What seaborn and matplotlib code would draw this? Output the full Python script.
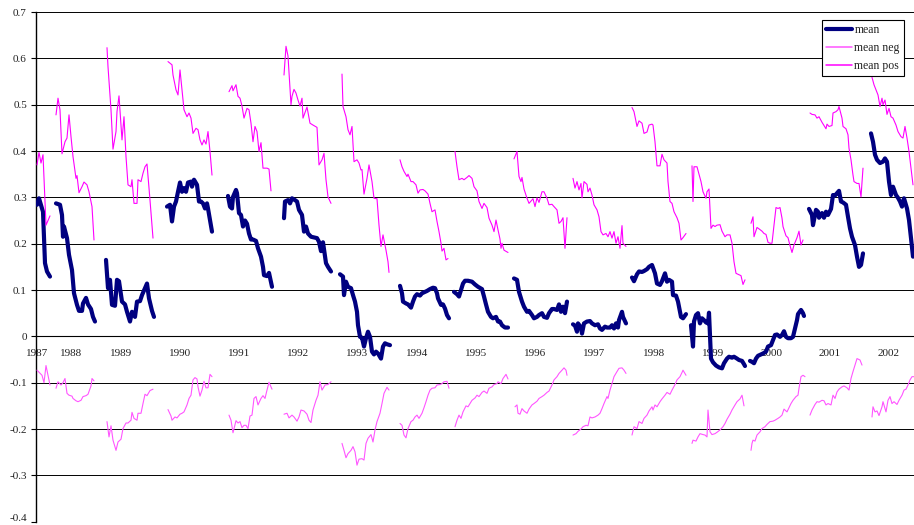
import numpy as np
import pandas as pd
import matplotlib
matplotlib.use("Agg")
import matplotlib.pyplot as plt
import matplotlib.transforms as mtransforms
import seaborn as sns
from matplotlib.lines import Line2D

# ---------------- data ----------------
year_labels = [str(y) for y in range(1987, 2003)]
year_tick_pos = [1, 35, 85, 144, 203, 262, 321, 381, 440, 499, 558, 618, 677, 736, 794, 853]
y_ticks = [0.7, 0.6, 0.5, 0.4, 0.3, 0.2, 0.1, 0.0, -0.1, -0.2, -0.3, -0.4]
y_tick_labels = ["0.7", "0.6", "0.5", "0.4", "0.3", "0.2", "0.1", "0", "-0.1", "-0.2", "-0.3", "-0.4"]

# mean (one sub-list per yearly segment; x = observation period index)
mean_x = [
    [1, 3, 6, 7, 9, 11, 14],
    [20, 24, 26, 27, 28, 31, 33, 36, 38, 41, 43, 46, 47, 50, 52, 55, 57, 59],
    [70, 72, 74, 76, 79, 81, 83, 86, 89, 91, 94, 96, 99, 101, 104, 106, 109, 111, 113, 116, 118],
    [131, 134, 136, 138, 140, 142, 144, 146, 148, 150, 152, 155, 156, 158, 161, 163, 165, 167, 169, 171, 172, 174, 176],
    [192, 194, 196, 197, 200, 201, 203, 205, 207, 209, 211, 213, 215, 217, 220, 222, 225, 227, 228, 231, 233, 236],
    [248, 249, 252, 254, 256, 259, 261, 263, 266, 268, 270, 272, 275, 277, 281, 283, 285, 287, 290, 292, 295],
    [304, 307, 308, 310, 312, 315, 317, 319, 321, 322, 324, 326, 328, 330, 332, 334, 336, 338, 340, 342, 345, 347, 349, 351, 354],
    [364, 366, 367, 370, 372, 375, 377, 379, 381, 384, 386, 389, 391, 394, 397, 399, 401, 402, 405, 407, 409, 411, 413],
    [418, 421, 423, 425, 427, 429, 432, 436, 439, 442, 446, 448, 450, 452, 455, 457, 460, 462, 464, 466, 469, 472],
    [478, 481, 483, 486, 488, 491, 493, 496, 498, 501, 503, 506, 508, 511, 513, 516, 518, 521, 523, 525, 527, 529, 531],
    [537, 539, 541, 542, 545, 546, 548, 551, 554, 556, 559, 562, 564, 566, 569, 571, 574, 576, 578, 580, 582, 583, 586, 587, 590],
    [596, 598, 601, 603, 606, 608, 611, 613, 616, 619, 621, 624, 626, 629, 631, 633, 636, 637, 640, 642, 645, 647, 650],
    [655, 657, 658, 660, 662, 664, 666, 668, 670, 672, 673, 675, 677, 680, 683, 686, 688, 691, 693, 696, 698, 701, 703, 706, 708, 709],
    [714, 716, 718, 720, 722, 725, 727, 730, 732, 735, 737, 739, 741, 744, 746, 748, 750, 752, 755, 757, 759, 761, 762, 765, 767, 768],
    [773, 776, 777, 780, 782, 783, 786, 788, 790, 792, 795, 797, 799, 801, 803, 805, 807, 810, 812, 814, 816, 819, 821, 823, 825, 827],
    [835, 837, 839, 841, 844, 847, 849, 851, 853, 855, 857, 860, 862, 864, 866, 868, 871, 873, 875, 877],
]
mean_y = [
    [0.284, 0.298, 0.276, 0.269, 0.158, 0.140, 0.129],
    [0.287, 0.284, 0.262, 0.215, 0.237, 0.212, 0.176, 0.143, 0.093, 0.068, 0.055, 0.055, 0.071, 0.083, 0.069, 0.059, 0.042, 0.032],
    [0.165, 0.104, 0.122, 0.068, 0.066, 0.122, 0.119, 0.075, 0.069, 0.053, 0.032, 0.053, 0.042, 0.075, 0.076, 0.089, 0.104, 0.114, 0.082, 0.055, 0.042],
    [0.280, 0.284, 0.248, 0.280, 0.291, 0.312, 0.332, 0.312, 0.320, 0.312, 0.332, 0.334, 0.323, 0.338, 0.327, 0.291, 0.291, 0.287, 0.276, 0.287, 0.276, 0.251, 0.226],
    [0.303, 0.280, 0.276, 0.301, 0.316, 0.309, 0.266, 0.262, 0.237, 0.250, 0.243, 0.222, 0.209, 0.209, 0.206, 0.190, 0.172, 0.150, 0.132, 0.130, 0.137, 0.107],
    [0.255, 0.291, 0.294, 0.287, 0.298, 0.294, 0.291, 0.273, 0.262, 0.226, 0.237, 0.222, 0.215, 0.214, 0.212, 0.204, 0.184, 0.203, 0.158, 0.150, 0.140],
    [0.134, 0.129, 0.089, 0.118, 0.107, 0.104, 0.089, 0.075, 0.053, 0.024, -0.001, -0.003, -0.022, -0.004, 0.010, -0.001, -0.033, -0.039, -0.033, -0.037, -0.048, -0.022, -0.015, -0.017, -0.019],
    [0.109, 0.093, 0.075, 0.071, 0.069, 0.062, 0.075, 0.086, 0.091, 0.088, 0.093, 0.096, 0.098, 0.102, 0.105, 0.104, 0.093, 0.082, 0.068, 0.069, 0.060, 0.046, 0.039],
    [0.096, 0.091, 0.086, 0.100, 0.114, 0.120, 0.120, 0.118, 0.112, 0.107, 0.102, 0.086, 0.069, 0.053, 0.042, 0.039, 0.042, 0.032, 0.032, 0.024, 0.019, 0.019],
    [0.125, 0.122, 0.096, 0.075, 0.064, 0.053, 0.055, 0.046, 0.039, 0.042, 0.046, 0.050, 0.042, 0.040, 0.050, 0.059, 0.059, 0.057, 0.069, 0.053, 0.064, 0.050, 0.075],
    [0.026, 0.023, 0.010, 0.028, 0.019, 0.006, 0.028, 0.032, 0.033, 0.028, 0.024, 0.026, 0.017, 0.014, 0.021, 0.019, 0.019, 0.024, 0.017, 0.028, 0.019, 0.035, 0.053, 0.042, 0.028],
    [0.127, 0.119, 0.134, 0.140, 0.139, 0.141, 0.145, 0.150, 0.154, 0.136, 0.114, 0.111, 0.119, 0.136, 0.118, 0.122, 0.118, 0.089, 0.088, 0.075, 0.042, 0.039, 0.048],
    [0.024, -0.022, 0.032, 0.046, 0.050, 0.028, 0.039, 0.035, 0.030, 0.028, 0.051, -0.048, -0.056, -0.063, -0.067, -0.069, -0.058, -0.048, -0.044, -0.046, -0.044, -0.048, -0.051, -0.053, -0.060, -0.064],
    [-0.053, -0.055, -0.058, -0.048, -0.042, -0.039, -0.037, -0.033, -0.022, -0.019, -0.008, 0.003, 0.004, -0.001, 0.003, 0.011, -0.001, -0.004, -0.004, -0.001, 0.017, 0.035, 0.048, 0.057, 0.050, 0.044],
    [0.275, 0.262, 0.240, 0.273, 0.269, 0.256, 0.266, 0.256, 0.269, 0.262, 0.275, 0.305, 0.304, 0.309, 0.314, 0.291, 0.289, 0.284, 0.258, 0.233, 0.215, 0.197, 0.172, 0.150, 0.154, 0.179],
    [0.438, 0.420, 0.392, 0.381, 0.374, 0.377, 0.384, 0.377, 0.334, 0.305, 0.323, 0.305, 0.299, 0.291, 0.280, 0.298, 0.276, 0.251, 0.212, 0.172],
]

# mean pos (upper magenta series)
pos_x = [
    [1, 3, 5, 7, 10, 14],
    [20, 22, 24, 26, 29, 31, 33, 35, 37, 40, 41, 43, 46, 48, 51, 53, 56, 58],
    [71, 72, 75, 77, 80, 81, 83, 86, 88, 90, 92, 95, 96, 98, 101, 102, 105, 107, 109, 111, 114, 117],
    [132, 136, 137, 140, 142, 144, 146, 148, 151, 153, 155, 157, 160, 162, 164, 166, 168, 170, 172, 174, 176],
    [193, 196, 197, 200, 202, 204, 206, 208, 211, 213, 215, 217, 219, 221, 223, 225, 227, 229, 231, 233, 235],
    [248, 250, 252, 255, 256, 258, 260, 262, 264, 266, 267, 271, 274, 277, 281, 283, 286, 288, 290, 292, 295],
    [306, 307, 310, 312, 314, 316, 318, 321, 323, 325, 326, 328, 331, 333, 336, 338, 341, 343, 345, 347, 350, 352, 353],
    [364, 366, 368, 371, 372, 375, 377, 380, 382, 384, 387, 389, 392, 394, 396, 399, 401, 403, 405, 406, 408, 410, 412],
    [419, 421, 423, 426, 428, 431, 433, 436, 438, 441, 443, 446, 448, 451, 453, 456, 458, 460, 462, 464, 465, 466, 468, 472],
    [478, 481, 483, 485, 486, 488, 491, 493, 495, 497, 499, 501, 503, 506, 508, 511, 513, 516, 518, 521, 523, 525, 527, 529, 531],
    [537, 539, 541, 543, 545, 546, 548, 551, 552, 554, 556, 558, 561, 563, 565, 567, 570, 572, 574, 576, 578, 580, 582, 584, 586, 587, 590],
    [596, 598, 601, 603, 606, 608, 611, 613, 616, 617, 619, 621, 624, 626, 628, 631, 632, 634, 636, 638, 641, 643, 645, 647, 650],
    [656, 657, 658, 661, 663, 665, 667, 670, 671, 673, 675, 677, 679, 681, 684, 686, 689, 691, 694, 696, 698, 700, 702, 705, 707, 709],
    [715, 717, 718, 721, 723, 726, 728, 730, 732, 734, 736, 738, 740, 742, 744, 746, 747, 750, 752, 754, 756, 758, 761, 763, 765, 767],
    [774, 776, 779, 781, 783, 786, 788, 790, 791, 793, 796, 797, 800, 802, 803, 806, 807, 810, 812, 813, 815, 817, 818, 821, 823, 825, 827],
    [836, 838, 840, 842, 844, 846, 847, 849, 851, 853, 855, 857, 860, 862, 865, 867, 869, 871, 873, 875, 877],
]
pos_y = [
    [0.370, 0.397, 0.374, 0.392, 0.240, 0.260],
    [0.478, 0.514, 0.489, 0.394, 0.420, 0.428, 0.478, 0.431, 0.388, 0.341, 0.347, 0.310, 0.323, 0.333, 0.327, 0.312, 0.280, 0.208],
    [0.623, 0.582, 0.489, 0.404, 0.442, 0.485, 0.519, 0.424, 0.474, 0.388, 0.327, 0.323, 0.338, 0.287, 0.287, 0.338, 0.334, 0.352, 0.366, 0.372, 0.294, 0.212],
    [0.593, 0.586, 0.564, 0.532, 0.521, 0.575, 0.532, 0.489, 0.474, 0.482, 0.471, 0.438, 0.449, 0.446, 0.424, 0.413, 0.424, 0.415, 0.442, 0.399, 0.348],
    [0.528, 0.541, 0.530, 0.543, 0.518, 0.514, 0.497, 0.471, 0.492, 0.489, 0.460, 0.420, 0.453, 0.442, 0.399, 0.418, 0.363, 0.363, 0.363, 0.361, 0.314],
    [0.564, 0.626, 0.605, 0.500, 0.518, 0.533, 0.525, 0.510, 0.497, 0.514, 0.471, 0.495, 0.460, 0.456, 0.451, 0.370, 0.381, 0.395, 0.338, 0.301, 0.287],
    [0.566, 0.496, 0.474, 0.446, 0.435, 0.453, 0.377, 0.381, 0.374, 0.359, 0.360, 0.307, 0.341, 0.370, 0.334, 0.298, 0.297, 0.240, 0.194, 0.219, 0.186, 0.161, 0.138],
    [0.381, 0.366, 0.356, 0.345, 0.350, 0.334, 0.334, 0.327, 0.309, 0.316, 0.317, 0.314, 0.307, 0.287, 0.269, 0.273, 0.248, 0.226, 0.201, 0.184, 0.190, 0.165, 0.168],
    [0.399, 0.366, 0.338, 0.341, 0.338, 0.343, 0.347, 0.341, 0.323, 0.314, 0.291, 0.276, 0.287, 0.278, 0.255, 0.240, 0.226, 0.251, 0.230, 0.210, 0.190, 0.201, 0.186, 0.181],
    [0.383, 0.399, 0.345, 0.334, 0.343, 0.318, 0.298, 0.287, 0.292, 0.297, 0.280, 0.299, 0.289, 0.312, 0.312, 0.298, 0.284, 0.285, 0.280, 0.273, 0.244, 0.248, 0.256, 0.190, 0.256],
    [0.341, 0.320, 0.334, 0.316, 0.330, 0.299, 0.334, 0.328, 0.312, 0.320, 0.305, 0.284, 0.273, 0.258, 0.226, 0.219, 0.222, 0.215, 0.226, 0.212, 0.226, 0.201, 0.215, 0.190, 0.239, 0.201, 0.194],
    [0.494, 0.485, 0.453, 0.465, 0.460, 0.438, 0.441, 0.456, 0.458, 0.456, 0.420, 0.368, 0.368, 0.393, 0.381, 0.374, 0.334, 0.291, 0.287, 0.269, 0.256, 0.244, 0.208, 0.213, 0.222],
    [0.368, 0.291, 0.366, 0.366, 0.350, 0.334, 0.312, 0.298, 0.312, 0.318, 0.233, 0.240, 0.237, 0.240, 0.241, 0.227, 0.215, 0.219, 0.219, 0.201, 0.161, 0.136, 0.134, 0.131, 0.112, 0.122],
    [0.244, 0.258, 0.215, 0.235, 0.232, 0.227, 0.222, 0.220, 0.203, 0.201, 0.201, 0.240, 0.278, 0.276, 0.278, 0.255, 0.237, 0.217, 0.213, 0.196, 0.181, 0.197, 0.213, 0.227, 0.197, 0.208],
    [0.482, 0.479, 0.478, 0.471, 0.474, 0.462, 0.455, 0.448, 0.458, 0.453, 0.455, 0.482, 0.485, 0.489, 0.496, 0.471, 0.453, 0.448, 0.435, 0.406, 0.381, 0.348, 0.334, 0.330, 0.330, 0.301, 0.363],
    [0.559, 0.543, 0.532, 0.521, 0.496, 0.514, 0.500, 0.510, 0.479, 0.492, 0.474, 0.471, 0.456, 0.442, 0.431, 0.428, 0.453, 0.428, 0.399, 0.363, 0.327],
]

# mean neg (lower magenta series)
neg_x = [
    [1, 6, 8, 10, 12, 14],
    [20, 22, 25, 27, 29, 31, 33, 36, 37, 40, 42, 45, 47, 50, 52, 55, 56, 58],
    [71, 73, 75, 77, 80, 82, 85, 87, 90, 92, 95, 96, 98, 101, 102, 105, 107, 109, 111, 114, 117],
    [132, 135, 136, 139, 141, 144, 146, 148, 151, 153, 155, 157, 159, 161, 162, 164, 166, 168, 170, 172, 174, 176],
    [193, 195, 197, 200, 202, 204, 206, 208, 210, 212, 214, 216, 218, 220, 222, 225, 227, 229, 231, 233, 236],
    [248, 251, 253, 256, 258, 261, 263, 265, 268, 271, 273, 275, 277, 280, 282, 284, 286, 289, 292, 295],
    [306, 308, 310, 312, 315, 317, 319, 321, 323, 326, 328, 330, 332, 335, 337, 339, 341, 344, 346, 348, 351, 353],
    [364, 366, 368, 370, 372, 375, 377, 379, 381, 383, 386, 388, 390, 392, 394, 396, 399, 401, 404, 406, 408, 411, 413],
    [419, 421, 423, 425, 427, 430, 432, 434, 436, 439, 441, 443, 446, 448, 451, 453, 456, 458, 461, 462, 465, 467, 470, 472],
    [479, 481, 482, 484, 486, 488, 491, 493, 496, 498, 501, 503, 506, 508, 511, 513, 516, 518, 521, 523, 526, 528, 530, 531],
    [537, 540, 542, 545, 547, 550, 552, 554, 556, 559, 562, 564, 566, 568, 571, 572, 574, 576, 578, 581, 583, 586, 588, 590],
    [596, 598, 601, 603, 606, 608, 611, 613, 616, 617, 619, 621, 624, 626, 629, 631, 634, 636, 639, 641, 644, 646, 647, 650],
    [656, 657, 660, 662, 664, 667, 669, 671, 672, 674, 676, 679, 681, 684, 687, 689, 691, 694, 696, 699, 701, 704, 706, 708],
    [715, 716, 717, 719, 721, 724, 726, 729, 731, 734, 737, 739, 742, 744, 746, 748, 751, 753, 755, 757, 760, 762, 763, 765, 767, 769],
    [774, 776, 779, 781, 783, 786, 788, 790, 792, 795, 797, 799, 801, 803, 806, 808, 811, 813, 815, 817, 819, 821, 824, 826],
    [836, 837, 839, 841, 843, 846, 847, 850, 852, 854, 856, 858, 861, 863, 866, 868, 870, 872, 874, 876, 878],
]
neg_y = [
    [-0.073, -0.084, -0.100, -0.063, -0.084, -0.105],
    [-0.112, -0.098, -0.105, -0.100, -0.091, -0.123, -0.127, -0.129, -0.134, -0.139, -0.141, -0.138, -0.130, -0.128, -0.125, -0.107, -0.091, -0.096],
    [-0.184, -0.217, -0.193, -0.224, -0.246, -0.228, -0.222, -0.199, -0.187, -0.187, -0.181, -0.164, -0.177, -0.181, -0.166, -0.166, -0.145, -0.125, -0.128, -0.117, -0.114],
    [-0.158, -0.172, -0.181, -0.174, -0.176, -0.168, -0.166, -0.163, -0.148, -0.134, -0.127, -0.094, -0.089, -0.092, -0.109, -0.129, -0.116, -0.097, -0.111, -0.111, -0.082, -0.087],
    [-0.170, -0.181, -0.208, -0.182, -0.187, -0.184, -0.197, -0.192, -0.192, -0.199, -0.172, -0.170, -0.134, -0.130, -0.148, -0.134, -0.128, -0.134, -0.116, -0.099, -0.114],
    [-0.168, -0.166, -0.176, -0.170, -0.174, -0.183, -0.174, -0.159, -0.161, -0.168, -0.181, -0.186, -0.159, -0.138, -0.127, -0.098, -0.116, -0.105, -0.104, -0.098],
    [-0.231, -0.246, -0.262, -0.253, -0.246, -0.238, -0.249, -0.278, -0.265, -0.264, -0.267, -0.231, -0.220, -0.212, -0.228, -0.202, -0.184, -0.166, -0.145, -0.123, -0.110, -0.116],
    [-0.188, -0.192, -0.213, -0.219, -0.199, -0.184, -0.181, -0.174, -0.170, -0.177, -0.166, -0.154, -0.141, -0.127, -0.116, -0.112, -0.111, -0.105, -0.104, -0.102, -0.098, -0.097, -0.112],
    [-0.195, -0.181, -0.170, -0.177, -0.163, -0.150, -0.152, -0.145, -0.138, -0.133, -0.127, -0.130, -0.121, -0.118, -0.123, -0.112, -0.109, -0.104, -0.102, -0.098, -0.102, -0.091, -0.082, -0.092],
    [-0.152, -0.148, -0.166, -0.168, -0.156, -0.161, -0.166, -0.157, -0.148, -0.145, -0.140, -0.134, -0.130, -0.127, -0.121, -0.118, -0.105, -0.094, -0.087, -0.080, -0.073, -0.068, -0.073, -0.084],
    [-0.213, -0.210, -0.205, -0.200, -0.195, -0.192, -0.193, -0.174, -0.176, -0.174, -0.170, -0.166, -0.156, -0.145, -0.130, -0.134, -0.116, -0.102, -0.087, -0.076, -0.069, -0.068, -0.073, -0.080],
    [-0.213, -0.195, -0.199, -0.184, -0.188, -0.177, -0.170, -0.161, -0.152, -0.159, -0.148, -0.152, -0.141, -0.135, -0.127, -0.121, -0.125, -0.116, -0.104, -0.094, -0.087, -0.078, -0.073, -0.084],
    [-0.231, -0.224, -0.226, -0.217, -0.210, -0.212, -0.213, -0.217, -0.159, -0.206, -0.212, -0.210, -0.207, -0.202, -0.195, -0.188, -0.179, -0.168, -0.159, -0.148, -0.141, -0.135, -0.127, -0.150],
    [-0.246, -0.231, -0.224, -0.226, -0.213, -0.206, -0.199, -0.195, -0.190, -0.184, -0.183, -0.181, -0.177, -0.174, -0.170, -0.157, -0.163, -0.154, -0.145, -0.138, -0.130, -0.127, -0.112, -0.087, -0.084, -0.087],
    [-0.170, -0.159, -0.147, -0.141, -0.142, -0.138, -0.139, -0.148, -0.145, -0.148, -0.127, -0.134, -0.120, -0.114, -0.109, -0.107, -0.111, -0.116, -0.091, -0.076, -0.062, -0.048, -0.051, -0.062],
    [-0.174, -0.152, -0.163, -0.161, -0.171, -0.152, -0.141, -0.163, -0.138, -0.130, -0.145, -0.141, -0.147, -0.138, -0.127, -0.116, -0.114, -0.105, -0.094, -0.087, -0.087],
]

series_names = ["mean", "mean neg", "mean pos"]
series_colors = {"mean": "#000080", "mean neg": "#FF55FF", "mean pos": "#FF00FF"}
series_widths = {"mean": 3.0, "mean neg": 0.8, "mean pos": 0.8}
legend_widths = {"mean": 3.0, "mean neg": 1.1, "mean pos": 1.1}


def to_frame(xs, ys, name):
    rows = []
    for k, (sx, sy) in enumerate(zip(xs, ys)):
        for a, b in zip(sx, sy):
            rows.append((name, k, a, b))
    return pd.DataFrame(rows, columns=["series", "segment", "period", "value"])


frames = {
    "mean": to_frame(mean_x, mean_y, "mean"),
    "mean neg": to_frame(neg_x, neg_y, "mean neg"),
    "mean pos": to_frame(pos_x, pos_y, "mean pos"),
}

# ---------------- plot ----------------
sns.set_theme(style="white")
plt.rcParams["font.family"] = ["Liberation Serif", "DejaVu Serif"]

fig = plt.figure(figsize=(9.14, 5.25), dpi=100)
ax = fig.add_axes([36 / 914, 3.3 / 525, 878 / 914, 509.7 / 525])

for name in series_names:
    sns.lineplot(
        data=frames[name], x="period", y="value", units="segment",
        estimator=None, sort=False, ax=ax, legend=False,
        color=series_colors[name], linewidth=series_widths[name],
        solid_joinstyle="round", solid_capstyle="round",
    )

ax.set_xlim(0, 878)
ax.set_ylim(-0.4, 0.7)
ax.set_yticks(y_ticks)
ax.set_yticklabels(y_tick_labels)
ax.set_xticks(year_tick_pos)
ax.set_xticklabels(year_labels)
ax.set_xlabel("")
ax.set_ylabel("")

ax.set_axisbelow(True)
ax.yaxis.grid(True, color="black", linewidth=0.7)
ax.xaxis.grid(False)

for s in ["top", "right"]:
    ax.spines[s].set_visible(False)
ax.spines["bottom"].set_position(("data", 0))
ax.spines["bottom"].set_color("black")
ax.spines["bottom"].set_linewidth(0.8)
ax.spines["bottom"].set_zorder(0.6)
ax.spines["left"].set_color("black")
ax.spines["left"].set_linewidth(1.0)
ax.spines["left"].set_zorder(0.6)

ax.tick_params(axis="x", length=0, pad=9, labelsize=8, labelcolor="#222222")
ax.tick_params(axis="y", length=3.5, width=0.8, direction="out", pad=3,
               labelsize=8, labelcolor="#222222", color="black", left=True)

# keep the bottom "-0.4" label inside the canvas (nudged up a few pixels)
bottom_label = ax.get_yticklabels()[-1]
bottom_label.set_transform(bottom_label.get_transform() +
                           mtransforms.ScaledTranslation(0, 4 / 100, fig.dpi_scale_trans))

handles = [Line2D([], [], color=series_colors[n], linewidth=legend_widths[n]) for n in series_names]
leg = ax.legend(handles, series_names, loc="upper right",
                bbox_to_anchor=((904 - 36) / 878, (521.7 - 20) / 509.7),
                borderaxespad=0, frameon=True, fancybox=False, framealpha=1,
                edgecolor="black", fontsize=8.5, handlelength=2.2,
                handletextpad=0.2, labelspacing=0.5, borderpad=0.35)
leg.get_frame().set_linewidth(0.8)
for t in leg.get_texts():
    t.set_color("#222222")

fig.savefig("out.png", dpi=100)
